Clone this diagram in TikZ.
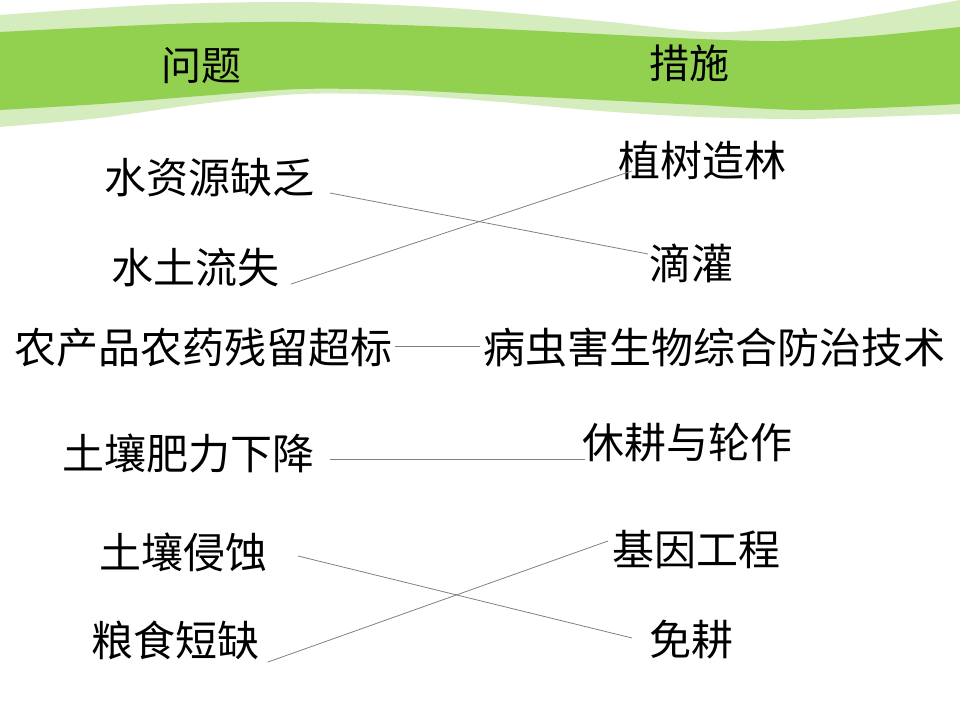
\documentclass[tikz,border=0pt]{standalone}
\usepackage{fontspec}
\newfontfamily\cjk{Noto Sans CJK SC}
\definecolor{bandgreen}{RGB}{146,208,80}
\definecolor{palegreen}{RGB}{213,236,190}
\definecolor{linkgray}{RGB}{128,128,128}
\usetikzlibrary{positioning,calc}

\begin{document}
\begin{tikzpicture}[x=1pt,y=-1pt,
        every node/.style={inner sep=0pt,outer sep=0pt},
        headnode/.style={font=\cjk\fontsize{40}{44}\selectfont},
        itemnode/.style={font=\cjk\fontsize{42}{46}\selectfont},
        link/.style={draw=linkgray,line width=0.8pt}
        ]
        \useasboundingbox (0,0) rectangle (960,720);

        % the banner
        \fill[palegreen] plot[smooth] coordinates {(0,15) (150,5) (300,2) (450,8) (600,21) (710,32) (800,26) (880,14) (960,0)}
            -- (960,114) -- plot[smooth] coordinates {(960,114) (900,116) (800,119) (700,117) (600,111) (500,102) (400,95) (300,94) (200,104) (100,118) (0,127)} -- cycle;
        \fill[bandgreen] plot[smooth] coordinates {(0,32) (100,27) (200,23) (300,22) (400,25) (500,29) (600,34) (700,39) (780,41) (870,36) (960,27)}
            -- (960,104) -- plot[smooth] coordinates {(960,104) (900,107) (800,110) (700,105) (600,100) (500,95) (400,90) (300,89) (200,96) (100,104) (0,110)} -- cycle;

        % the headings
        \node[headnode] (hq) at (201,66) {问题};
        \node[headnode] (hm) at (689,63) {措施};

        % the problems
        \node[itemnode] (p1) at (209,178) {水资源缺乏};
        \node[itemnode] (p2) at (195,268) {水土流失};
        \node[itemnode] (p3) at (203,348) {农产品农药残留超标};
        \node[itemnode] (p4) at (188,453) {土壤肥力下降};
        \node[itemnode] (p5) at (183,552) {土壤侵蚀};
        \node[itemnode] (p6) at (175,640) {粮食短缺};

        % the measures
        \node[itemnode] (m1) at (702,160) {植树造林};
        \node[itemnode] (m2) at (691,263) {滴灌};
        \node[itemnode] (m3) at (714,348) {病虫害生物综合防治技术};
        \node[itemnode] (m4) at (687,443) {休耕与轮作};
        \node[itemnode] (m5) at (696,550) {基因工程};
        \node[itemnode] (m6) at (691,640) {免耕};

        % the links
        \draw[link] ($(p1.east)+(16,15)$) -- ($(m2.west)+(-1,-9)$);
        \draw[link] ($(p2.east)+(12,16)$) -- ($(m1.west)+(14,11)$);
        \draw[link] ($(p3.east)+(3,-2)$) -- ($(m3.west)+(-3,-2)$);
        \draw[link] ($(p4.east)+(16,6)$) -- ($(m4.west)+(3,16)$);
        \draw[link] ($(p5.east)+(31,4)$) -- ($(m6.west)+(-17,-2)$);
        \draw[link] ($(p6.east)+(9,22)$) -- ($(m5.west)+(-4,-9)$);
\end{tikzpicture}
\end{document}
